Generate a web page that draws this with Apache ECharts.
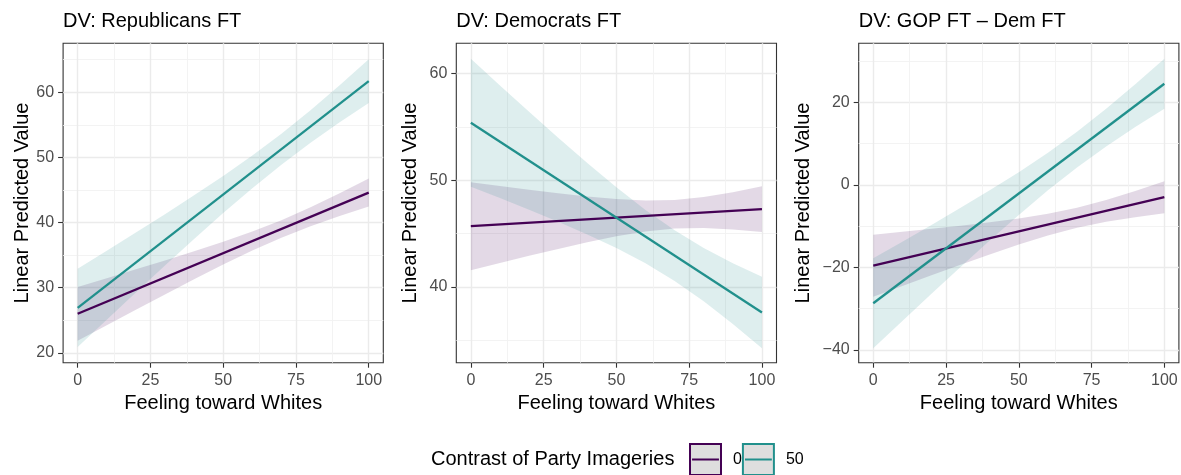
<!DOCTYPE html>
<html>
<head>
<meta charset="utf-8">
<title>Linear Predicted Value by Feeling toward Whites</title>
<script src="https://cdn.jsdelivr.net/npm/echarts@6/dist/echarts.min.js"></script>
<style>
  html, body { margin: 0; padding: 0; background: #fff; }
  #chart { width: 1181px; height: 475px; }
</style>
</head>
<body>
<div id="chart"></div>
<script>
  // x grid of the predictions (feeling toward whites)
  const xs = [0, 10, 20, 30, 40, 50, 60, 70, 80, 90, 100]
  const lineX = [0, 100]
  const xTicks = [0, 25, 50, 75, 100]
  const xMinor = [12.5, 37.5, 62.5, 87.5]

  // DV: Republicans FT
  const rep0Line = [26.0, 44.6]
  const rep50Line = [26.9, 61.7]
  const rep0Lo = [21.87, 24.25, 26.62, 28.97, 31.30, 33.55, 35.71, 37.68, 39.43, 40.99, 42.45]
  const rep0Hi = [30.13, 31.47, 32.82, 34.19, 35.58, 37.05, 38.61, 40.36, 42.33, 44.49, 46.75]
  const rep50Lo = [20.9, 25.1, 29.26, 33.4, 37.47, 41.45, 45.28, 48.88, 52.24, 55.37, 58.35]
  const rep50Hi = [32.9, 35.67, 38.46, 41.28, 44.17, 47.15, 50.28, 53.64, 57.24, 61.07, 65.05]
  const repTicks = [20, 30, 40, 50, 60]
  const repMinor = [25, 35, 45, 55, 65]

  // DV: Democrats FT
  const dem0Line = [45.7, 47.3]
  const dem50Line = [55.4, 37.6]
  const dem0Lo = [41.57, 42.25, 42.92, 43.57, 44.2, 44.75, 45.21, 45.48, 45.53, 45.39, 45.15]
  const dem0Hi = [49.83, 49.47, 49.12, 48.79, 48.48, 48.25, 48.11, 48.16, 48.43, 48.89, 49.45]
  const dem50Lo = [49.4, 48.34, 47.24, 46.12, 44.93, 43.65, 42.22, 40.57, 38.66, 36.53, 34.25]
  const dem50Hi = [61.4, 58.9, 56.44, 54.0, 51.63, 49.35, 47.22, 45.31, 43.66, 42.23, 40.95]
  const demTicks = [40, 50, 60]
  const demMinor = [35, 45, 55]

  // DV: GOP FT - Dem FT
  const diff0Line = [-19.6, -3.0]
  const diff50Line = [-28.7, 24.5]
  const diff0Lo = [-27.1, -24.49, -21.91, -19.35, -16.85, -14.47, -12.28, -10.42, -8.96, -7.83, -6.9]
  const diff0Hi = [-12.1, -11.39, -10.65, -9.89, -9.07, -8.13, -7.0, -5.54, -3.68, -1.49, 0.9]
  const diff50Lo = [-39.6, -32.98, -26.41, -19.9, -13.5, -7.28, -1.33, 4.22, 9.31, 14.0, 18.42]
  const diff50Hi = [-17.8, -13.78, -9.71, -5.58, -1.34, 3.08, 7.77, 12.86, 18.41, 24.36, 30.58]
  const diffTicks = [-40, -20, 0, 20]
  const diffMinor = [-30, -10, 10, 30]

  const groups = ['0', '50']

  const FONT = '"Liberation Sans", Arial, Helvetica, sans-serif'
  const COLORS = ['#440154', '#21908C']
  const FILLS = ['rgba(68,1,84,0.15)', 'rgba(33,144,140,0.15)']

  const panels = [
    { title: 'DV: Republicans FT', left: 63.1, yMin: 18.5, yMax: 67.5, ticks: repTicks, minor: repMinor, nameGap: 30,
      lines: [rep0Line, rep50Line], lo: [rep0Lo, rep50Lo], hi: [rep0Hi, rep50Hi] },
    { title: 'DV: Democrats FT', left: 456.3, yMin: 32.9, yMax: 62.85, ticks: demTicks, minor: demMinor, nameGap: 36,
      lines: [dem0Line, dem50Line], lo: [dem0Lo, dem50Lo], hi: [dem0Hi, dem50Hi] },
    { title: 'DV: GOP FT \u2013 Dem FT', left: 858.7, yMin: -43.1, yMax: 34.3, ticks: diffTicks, minor: diffMinor, nameGap: 45,
      lines: [diff0Line, diff50Line], lo: [diff0Lo, diff50Lo], hi: [diff0Hi, diff50Hi] }
  ]

  const minus = v => String(v).replace('-', '\u2212')

  // confidence ribbon: one polygon through the lower and upper bounds
  function ribbon(params, api) {
    if (params.dataIndexInside !== 0) return
    const n = params.dataInsideLength
    const top = []
    const bottom = []
    for (let k = 0; k < n; k++) {
      top.push(api.coord([api.value(0, k), api.value(2, k)]))
      bottom.push(api.coord([api.value(0, k), api.value(1, k)]))
    }
    return {
      type: 'polygon',
      shape: { points: top.concat(bottom.reverse()) },
      style: { fill: api.visual('color') }
    }
  }

  const grid = []
  const xAxis = []
  const yAxis = []
  const series = []
  const titles = []

  panels.forEach((p, i) => {
    grid.push({
      left: p.left, top: 43.3, width: 320.2, height: 319.4,
      show: true, borderColor: '#333', borderWidth: 1.1, backgroundColor: 'transparent'
    })
    titles.push({
      text: p.title, left: p.left, top: 11, padding: 0,
      textStyle: { fontSize: 20, fontWeight: 'normal', color: '#000', fontFamily: FONT }
    })
    // main x axis
    xAxis.push({
      type: 'value', gridIndex: i, min: -5, max: 105,
      axisLine: { show: false, onZero: false },
      axisTick: { show: true, length: 5, customValues: xTicks, lineStyle: { color: '#333', width: 1.1 } },
      axisLabel: { customValues: xTicks, fontSize: 16, color: '#4D4D4D', margin: 10, fontFamily: FONT },
      splitLine: { show: true, lineStyle: { color: '#EBEBEB', width: 1.4 } },
      name: 'Feeling toward Whites', nameLocation: 'middle', nameGap: 29,
      nameTextStyle: { fontSize: 20, color: '#000', fontFamily: FONT }
    })
    // minor x grid
    xAxis.push({
      type: 'value', gridIndex: i, min: -5, max: 105, position: 'top',
      axisLine: { show: false, onZero: false },
      axisTick: { show: false, customValues: xMinor },
      axisLabel: { show: false },
      splitLine: { show: true, lineStyle: { color: '#F2F2F2', width: 0.9 } }
    })
    yAxis.push({
      type: 'value', gridIndex: i, min: p.yMin, max: p.yMax,
      axisLine: { show: false, onZero: false },
      axisTick: { show: true, length: 5, customValues: p.ticks, lineStyle: { color: '#333', width: 1.1 } },
      axisLabel: { customValues: p.ticks, fontSize: 16, color: '#4D4D4D', margin: 9, fontFamily: FONT, formatter: minus },
      splitLine: { show: true, lineStyle: { color: '#EBEBEB', width: 1.4 } },
      name: 'Linear Predicted Value', nameLocation: 'middle', nameGap: p.nameGap,
      nameTextStyle: { fontSize: 20, color: '#000', fontFamily: FONT }
    })
    yAxis.push({
      type: 'value', gridIndex: i, min: p.yMin, max: p.yMax, position: 'right',
      axisLine: { show: false, onZero: false },
      axisTick: { show: false, customValues: p.minor },
      axisLabel: { show: false },
      splitLine: { show: true, lineStyle: { color: '#F2F2F2', width: 0.9 } }
    })

    groups.forEach((g, j) => {
      series.push({
        type: 'custom', xAxisIndex: 2 * i, yAxisIndex: 2 * i, silent: true, z: 2,
        itemStyle: { color: FILLS[j] },
        encode: { x: 0, y: [1, 2] },
        data: xs.map((x, k) => [x, p.lo[j][k], p.hi[j][k]]),
        renderItem: ribbon
      })
    })
    groups.forEach((g, j) => {
      series.push({
        type: 'line', name: g, xAxisIndex: 2 * i, yAxisIndex: 2 * i, z: 3,
        symbol: 'none', silent: true,
        lineStyle: { color: COLORS[j], width: 2.3 },
        itemStyle: { color: COLORS[j] },
        data: lineX.map((x, k) => [x, p.lines[j][k]])
      })
    })
  })

  titles.push({
    text: 'Contrast of Party Imageries', left: 431, top: 449, padding: 0,
    textStyle: { fontSize: 20, fontWeight: 'normal', color: '#000', fontFamily: FONT }
  })

  const keyIcon = 'path://M0,0H30V30H0Z M2,15H28'

  const chart = echarts.init(document.getElementById('chart'), null, { renderer: 'canvas' })
  chart.setOption({
    animation: false,
    backgroundColor: '#fff',
    textStyle: { fontFamily: FONT },
    title: titles,
    legend: {
      left: 689, top: 443, padding: 0, orient: 'horizontal',
      itemWidth: 31, itemHeight: 31, itemGap: 0,
      selectedMode: false,
      textStyle: { fontSize: 16, color: '#000', fontFamily: FONT, padding: [0, 0, 0, 7] },
      data: groups.map((g, j) => ({
        name: g, icon: keyIcon,
        itemStyle: { color: '#DEDEDE', borderColor: COLORS[j], borderWidth: 2 }
      }))
    },
    grid: grid,
    xAxis: xAxis,
    yAxis: yAxis,
    series: series
  })
</script>
</body>
</html>
